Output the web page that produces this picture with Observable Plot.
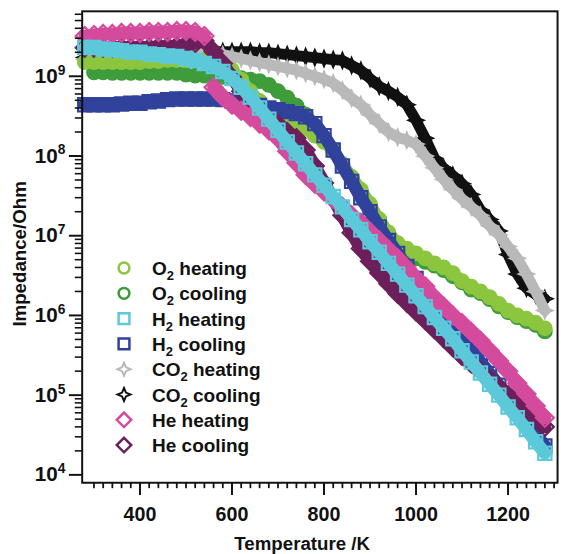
<!DOCTYPE html>
<html><head><meta charset="utf-8">
<script src="https://cdn.jsdelivr.net/npm/d3@7"></script>
<script src="https://cdn.jsdelivr.net/npm/@observablehq/plot@0.6"></script>
<style>
html,body{margin:0;padding:0;background:#fff;overflow:hidden;width:561px;height:554px;}
#wrap{position:relative;width:561px;height:554px;overflow:hidden;}
#wrap svg{position:absolute;left:0;top:0;}
</style></head><body><div id="wrap"></div>
<script>
// Temperature grid (K)
const temperature = [280,300,320,340,360,380,400,420,440,460,480,500,520,540,560,580,600,620,640,660,680,700,720,740,760,780,800,820,840,860,880,900,920,940,960,980,1000,1020,1040,1060,1080,1100,1120,1140,1160,1180,1200,1220,1240,1260,1280];

// Impedance (Ohm)
const o2Heating = [1.5e9,1.5e9,1.5e9,1.5e9,1.5e9,1.5e9,1.5e9,1.55e9,1.55e9,1.6e9,1.6e9,1.6e9,1.6e9,1.6e9,1.6e9,1.4e9,1.2e9,9.1e8,6.5e8,4.9e8,3.9e8,3.3e8,3.0e8,2.6e8,2.2e8,1.8e8,1.5e8,1.15e8,7.9e7,5.5e7,3.8e7,2.5e7,1.6e7,1.1e7,8.1e6,6.9e6,6.0e6,5.2e6,4.5e6,4.0e6,3.4e6,2.7e6,2.3e6,2.0e6,1.7e6,1.4e6,1.15e6,1.0e6,9.1e5,8.1e5,6.9e5];
const o2Cooling = [null,1.12e9,1.12e9,1.1e9,1.1e9,1.1e9,1.1e9,1.1e9,1.1e9,1.1e9,1.1e9,1.05e9,1.02e9,1.02e9,1.0e9,9.8e8,9.8e8,9.5e8,9.1e8,8.7e8,7.8e8,6.5e8,5.4e8,4.3e8,3.3e8,2.4e8,1.7e8,1.2e8,7.9e7,5.4e7,3.6e7,2.3e7,1.6e7,1.05e7,7.8e6,6.2e6,5.2e6,4.7e6,4.2e6,3.7e6,3.1e6,2.6e6,2.1e6,1.9e6,1.6e6,1.3e6,1.1e6,9.5e5,8.5e5,7.6e5,6.3e5];
const h2Heating = [2.3e9,2.3e9,2.2e9,2.15e9,2.1e9,2.0e9,2.0e9,1.9e9,1.87e9,1.8e9,1.77e9,1.67e9,1.58e9,1.45e9,1.33e9,1.15e9,9.4e8,7.3e8,5.5e8,4.0e8,2.9e8,2.1e8,1.5e8,1.09e8,8.0e7,5.8e7,4.3e7,3.1e7,2.3e7,1.6e7,1.19e7,8.4e6,6.2e6,4.5e6,3.3e6,2.4e6,1.77e6,1.29e6,9.4e5,6.9e5,5.1e5,3.6e5,2.6e5,1.9e5,1.37e5,1.0e5,7.1e4,5.2e4,3.7e4,2.6e4,1.87e4];
const h2Cooling = [4.4e8,4.4e8,4.4e8,4.4e8,4.5e8,4.6e8,4.6e8,4.8e8,4.9e8,5.1e8,5.2e8,5.2e8,5.2e8,5.2e8,5.2e8,5.1e8,4.9e8,4.8e8,4.5e8,4.3e8,4.0e8,3.8e8,3.6e8,3.4e8,3.1e8,2.55e8,1.8e8,1.19e8,7.5e7,4.8e7,3.0e7,2.0e7,1.29e7,8.7e6,6.0e6,4.1e6,2.9e6,2.0e6,1.45e6,1.03e6,7.3e5,5.2e5,3.7e5,2.6e5,1.87e5,1.33e5,9.4e4,6.7e4,4.8e4,3.3e4,2.3e4];
const co2Heating = [1.62e9,1.77e9,1.87e9,1.98e9,2.04e9,2.1e9,2.15e9,2.15e9,2.15e9,2.15e9,2.15e9,2.15e9,2.1e9,2.04e9,1.98e9,1.87e9,1.77e9,1.67e9,1.58e9,1.49e9,1.41e9,1.33e9,1.26e9,1.19e9,1.09e9,1.0e9,9.2e8,8.2e8,6.7e8,5.3e8,4.4e8,3.3e8,2.55e8,2.0e8,1.72e8,1.58e8,1.41e8,1.0e8,7.1e7,5.1e7,3.8e7,2.9e7,2.3e7,1.8e7,1.33e7,1.03e7,7.3e6,5.2e6,3.3e6,2.0e6,1.15e6];
const co2Cooling = [1.72e9,1.77e9,1.82e9,1.87e9,1.87e9,1.92e9,1.92e9,1.98e9,1.98e9,1.98e9,1.98e9,1.98e9,2.04e9,2.04e9,2.04e9,2.04e9,2.04e9,2.04e9,2.04e9,1.98e9,1.98e9,1.92e9,1.87e9,1.82e9,1.77e9,1.72e9,1.67e9,1.62e9,1.58e9,1.37e9,1.19e9,9.4e8,7.5e8,6.5e8,5.5e8,4.4e8,2.8e8,1.67e8,9.4e7,7.1e7,5.7e7,4.5e7,3.3e7,2.1e7,1.6e7,1.15e7,5.8e6,3.3e6,2.2e6,1.82e6,1.62e6];
const heHeating = [3.2e9,3.3e9,3.4e9,3.4e9,3.5e9,3.5e9,3.5e9,3.6e9,3.6e9,3.6e9,3.7e9,3.7e9,3.6e9,3.2e9,7.3e8,5.5e8,4.4e8,3.7e8,3.1e8,2.55e8,2.1e8,1.67e8,1.15e8,8.2e7,5.8e7,4.5e7,3.6e7,2.9e7,2.3e7,1.8e7,1.45e7,1.12e7,8.7e6,6.7e6,5.2e6,3.9e6,2.9e6,2.3e6,1.67e6,1.29e6,1.0e6,8.0e5,6.2e5,4.8e5,3.6e5,2.7e5,2.0e5,1.41e5,1.03e5,7.3e4,5.2e4];
const heCooling = [2.28e9,2.28e9,2.28e9,2.28e9,2.28e9,2.28e9,2.28e9,2.28e9,2.35e9,2.35e9,2.4e9,2.5e9,2.6e9,2.8e9,2.04e9,1.45e9,9.7e8,6.5e8,4.6e8,3.6e8,2.9e8,2.5e8,2.0e8,1.67e8,1.19e8,7.5e7,4.6e7,2.9e7,1.8e7,1.09e7,6.9e6,4.8e6,3.4e6,2.5e6,1.87e6,1.45e6,1.12e6,8.7e5,6.7e5,5.2e5,4.0e5,3.1e5,2.5e5,2.0e5,1.58e5,1.26e5,1.0e5,8.0e4,6.3e4,5.1e4,4.0e4];

// Axis ticks
const xTicks = [400, 600, 800, 1000, 1200];
const yTicks = [1e4, 1e5, 1e6, 1e7, 1e8, 1e9];

const FONT = "'Liberation Sans', Arial, Helvetica, sans-serif";

// 4-pointed star symbol (CO2)
const star4 = {
  draw(ctx, size) {
    const s = Math.sqrt(size / Math.PI), k = s * 0.3;
    ctx.moveTo(0, -s); ctx.lineTo(k, -k); ctx.lineTo(s, 0); ctx.lineTo(k, k);
    ctx.lineTo(0, s); ctx.lineTo(-k, k); ctx.lineTo(-s, 0); ctx.lineTo(-k, -k); ctx.closePath();
  }
};

const series = {
  o2Heating: {gas: "O", sub: "2", mode: " heating", values: o2Heating, color: "#8cc63f", symbol: d3.symbolCircle, r: 6.8, sw: 2.4, lw: 12, lr: 5.4},
  o2Cooling: {gas: "O", sub: "2", mode: " cooling", values: o2Cooling, color: "#3e9c3a", symbol: d3.symbolCircle, r: 6.8, sw: 2.4, lw: 12, lr: 5.4},
  h2Heating: {gas: "H", sub: "2", mode: " heating", values: h2Heating, color: "#5cc9da", symbol: d3.symbolSquare, r: 7.6, sw: 2.2, lw: 13, lr: 6.1},
  h2Cooling: {gas: "H", sub: "2", mode: " cooling", values: h2Cooling, color: "#30429c", symbol: d3.symbolSquare, r: 7.6, sw: 2.2, lw: 13, lr: 6.1},
  co2Heating: {gas: "CO", sub: "2", mode: " heating", values: co2Heating, color: "#b9b9b9", symbol: star4, r: 8, sw: 1.8, lw: 11, lr: 6.5},
  co2Cooling: {gas: "CO", sub: "2", mode: " cooling", values: co2Cooling, color: "#111111", symbol: star4, r: 8, sw: 1.8, lw: 11, lr: 6.5},
  heHeating: {gas: "He", sub: "", mode: " heating", values: heHeating, color: "#d44b9d", symbol: d3.symbolDiamond2, r: 8.2, sw: 2.3, lw: 13, lr: 6.5, breakAfter: 540},
  heCooling: {gas: "He", sub: "", mode: " cooling", values: heCooling, color: "#6d1f5b", symbol: d3.symbolDiamond2, r: 8.2, sw: 2.3, lw: 13, lr: 6.5}
};
const drawOrder = ["co2Cooling", "co2Heating", "o2Cooling", "o2Heating", "h2Cooling", "heCooling", "heHeating", "h2Heating"];
const legendOrder = ["o2Heating", "o2Cooling", "h2Heating", "h2Cooling", "co2Heating", "co2Cooling", "heHeating", "heCooling"];

const xMinor = d3.range(300, 1301, 20);
const yMinor = [];
for (let e = 4; e <= 9; e++) for (let k = 2; k <= 9; k++) if (k * 10 ** e < 6.5e9) yMinor.push(k * 10 ** e);

const marks = [];
for (const key of drawOrder) {
  const s = series[key];
  const data = temperature
    .map((T, i) => ({T, Z: s.values[i], seg: s.breakAfter != null && T > s.breakAfter ? 1 : 0}))
    .filter(d => d.Z != null);
  marks.push(Plot.line(data, {x: "T", y: "Z", z: "seg", stroke: s.color, strokeWidth: s.lw, strokeLinejoin: "round", strokeLinecap: "round"}));
  marks.push(Plot.dot(data, {x: "T", y: "Z", symbol: s.symbol, r: s.r, stroke: s.color, strokeWidth: s.sw, fill: "none"}));
}

marks.push(
  Plot.frame({stroke: "#111", strokeWidth: 2}),
  Plot.axisX(xMinor, {tickSize: 6, strokeWidth: 1.8, tickFormat: () => "", label: null}),
  Plot.axisX(xTicks, {tickSize: 13, tickPadding: 12, strokeWidth: 2, fontSize: 20, fontWeight: "bold", tickFormat: d => String(d), label: null}),
  Plot.axisY(yMinor, {tickSize: 7, strokeWidth: 1.6, tickFormat: () => "", label: null}),
  Plot.axisY(yTicks, {tickSize: 13, tickPadding: 4, strokeWidth: 2, fontSize: 21, fontWeight: "bold", tickFormat: d => "10^" + Math.round(Math.log10(d)), label: null}),
  Plot.text(["Temperature /K"], {text: d => d, frameAnchor: "bottom", lineAnchor: "middle", textAnchor: "middle", dy: 62, dx: -18, fontSize: 19, fontWeight: "bold", fill: "#111"}),
  Plot.text(["Impedance/Ohm"], {text: d => d, frameAnchor: "left", lineAnchor: "middle", textAnchor: "middle", rotate: -90, dx: -63.5, dy: 7, fontSize: 19, fontWeight: "bold", fill: "#111"})
);

const chart = Plot.plot({
  width: 570, height: 554,
  marginLeft: 83, marginTop: 11, marginRight: 4, marginBottom: 64,
  x: {domain: [274.4, 1307.6]},
  y: {type: "log", domain: [10 ** 3.901, 10 ** 9.815]},
  style: {fontFamily: FONT, fontWeight: "bold", color: "#111", background: "#fff", overflow: "visible"},
  marks
});
const wrap = document.getElementById("wrap");
wrap.appendChild(chart);

// superscript exponents on y tick labels
d3.select(chart).selectAll("text").each(function () {
  const m = /^10\^(\d+)$/.exec(this.textContent);
  if (m) {
    const sel = d3.select(this);
    sel.text("");
    sel.append("tspan").text("10");
    sel.append("tspan").attr("font-size", 14).attr("dy", "-0.6em").text(m[1]);
  }
});

// legend overlay
const legendTop = 268, legendStep = 25.3, symX = 124, textX = 152;
const lg = d3.select(wrap).append("svg").attr("width", 561).attr("height", 554).style("pointer-events", "none");
legendOrder.forEach((key, i) => {
  const s = series[key];
  const cy = legendTop + i * legendStep;
  lg.append("path").attr("transform", `translate(${symX},${cy})`)
    .attr("d", d3.symbol(s.symbol, Math.PI * s.lr * s.lr)())
    .attr("fill", "none").attr("stroke", s.color).attr("stroke-width", s.symbol === star4 ? 2 : 2.5);
  const t = lg.append("text").attr("x", textX).attr("y", cy + 7).attr("font-size", 19)
    .attr("font-weight", "bold").attr("font-family", FONT).attr("fill", "#111");
  t.append("tspan").text(s.gas);
  if (s.sub) t.append("tspan").attr("font-size", 13).attr("dy", 5).text(s.sub);
  t.append("tspan").attr("dy", s.sub ? -5 : 0).text(s.mode);
});
</script>
</body></html>
